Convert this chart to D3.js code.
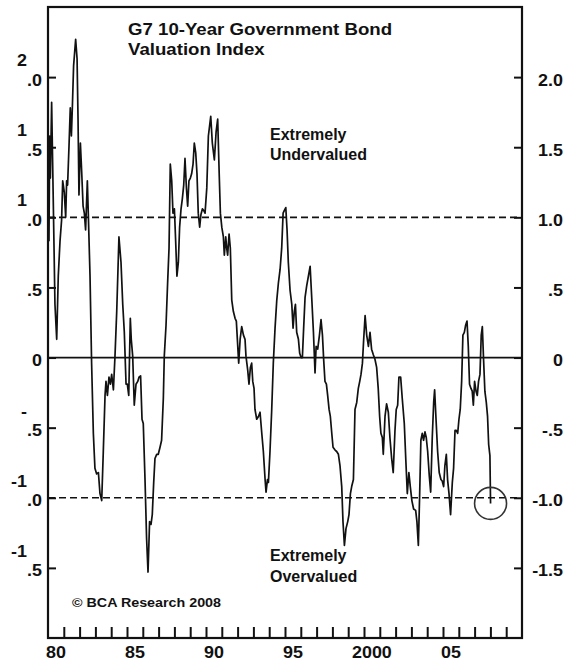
<!DOCTYPE html>
<html>
<head>
<meta charset="utf-8">
<script src="https://cdn.jsdelivr.net/npm/d3@7"></script>
<style>
  body { margin: 0; background: #fff; }
  text { font-family: "Liberation Sans", Arial, sans-serif; font-weight: bold; fill: #111; }
</style>
</head>
<body>
<script>
// G7 10-Year Government Bond Valuation Index
const years = [
  1980.06, 1980.11, 1980.15, 1980.23, 1980.32, 1980.44, 1980.55, 1980.65, 1980.76, 1980.86, 1980.93,
  1981.03, 1981.12, 1981.18, 1981.24, 1981.33, 1981.41, 1981.48, 1981.54, 1981.62, 1981.75, 1981.84, 1981.90, 1981.96,
  1982.05, 1982.13, 1982.22, 1982.30, 1982.38, 1982.49, 1982.55, 1982.66, 1982.76, 1982.87, 1982.97,
  1983.08, 1983.19, 1983.29, 1983.40, 1983.50, 1983.61, 1983.67, 1983.76, 1983.86, 1983.95,
  1984.03, 1984.14, 1984.24, 1984.35, 1984.49, 1984.62, 1984.73, 1984.83, 1984.94,
  1985.02, 1985.11, 1985.21, 1985.27, 1985.36, 1985.46, 1985.57, 1985.68, 1985.76, 1985.86, 1985.95,
  1986.03, 1986.14, 1986.24, 1986.33, 1986.43, 1986.52, 1986.60, 1986.69, 1986.77, 1986.88, 1986.98,
  1987.09, 1987.19, 1987.30, 1987.36, 1987.47, 1987.57, 1987.66, 1987.74, 1987.83, 1987.91,
  1988.00, 1988.08, 1988.16, 1988.25, 1988.33, 1988.42, 1988.50, 1988.59, 1988.67, 1988.76, 1988.84, 1988.92,
  1989.01, 1989.09, 1989.18, 1989.26, 1989.35, 1989.43, 1989.51, 1989.60, 1989.68, 1989.77, 1989.85, 1989.94,
  1990.05, 1990.15, 1990.30, 1990.40, 1990.53, 1990.64, 1990.74, 1990.83, 1990.91,
  1991.00, 1991.10, 1991.16, 1991.25, 1991.31, 1991.37, 1991.46, 1991.54, 1991.63, 1991.73, 1991.84, 1991.92,
  1992.01, 1992.07, 1992.16, 1992.26, 1992.37, 1992.47, 1992.53, 1992.64, 1992.72, 1992.81, 1992.89, 1992.96,
  1993.04, 1993.10, 1993.21, 1993.32, 1993.42, 1993.53, 1993.63, 1993.74, 1993.80, 1993.89, 1993.95,
  1994.05, 1994.16, 1994.26, 1994.37, 1994.48, 1994.58, 1994.69, 1994.79, 1994.88, 1994.96,
  1995.05, 1995.13, 1995.21, 1995.32, 1995.43, 1995.51, 1995.59, 1995.66, 1995.74, 1995.85, 1995.93,
  1996.02, 1996.10, 1996.18, 1996.27, 1996.37, 1996.48, 1996.59, 1996.69, 1996.80, 1996.90, 1996.97,
  1997.07, 1997.18, 1997.28, 1997.37, 1997.45, 1997.53, 1997.62, 1997.70, 1997.79, 1997.87, 1997.96,
  1998.04, 1998.17, 1998.27, 1998.38, 1998.48, 1998.59, 1998.67, 1998.76, 1998.86, 1998.97,
  1999.05, 1999.14, 1999.22, 1999.33, 1999.43, 1999.54, 1999.64, 1999.73, 1999.81, 1999.90, 1999.98,
  2000.07, 2000.17, 2000.28, 2000.38, 2000.48, 2000.59, 2000.69, 2000.80, 2000.90, 2000.99,
  2001.07, 2001.16, 2001.22, 2001.33, 2001.43, 2001.54, 2001.64, 2001.75, 2001.85, 2001.96,
  2002.04, 2002.13, 2002.21, 2002.32, 2002.42, 2002.55, 2002.65, 2002.74, 2002.84, 2002.93,
  2003.03, 2003.14, 2003.27, 2003.35, 2003.44, 2003.52, 2003.60, 2003.69, 2003.77, 2003.86, 2003.94,
  2004.03, 2004.13, 2004.22, 2004.32, 2004.41, 2004.47, 2004.55, 2004.66, 2004.76, 2004.87, 2004.95,
  2005.04, 2005.12, 2005.21, 2005.29, 2005.38, 2005.48, 2005.59, 2005.67, 2005.76, 2005.84, 2005.93,
  2006.01, 2006.09, 2006.18, 2006.26, 2006.35, 2006.43, 2006.52, 2006.60, 2006.68, 2006.77, 2006.85, 2006.92,
  2007.00, 2007.09, 2007.17, 2007.25, 2007.34, 2007.42, 2007.49, 2007.57, 2007.65, 2007.74, 2007.82, 2007.89, 2007.97,
  2008.01
];
const index = [
  0.83, 1.58, 1.28, 1.82, 1.21, 0.38, 0.13, 0.58, 0.83, 0.98, 1.26,
  1.18, 1.00, 1.26, 1.23, 1.51, 1.78, 1.58, 1.78, 2.08, 2.27, 2.13, 1.71, 1.16,
  1.53, 1.33, 1.08, 1.03, 0.91, 1.26, 1.03, 0.58, -0.04, -0.54, -0.79,
  -0.83, -0.82, -0.97, -1.02, -0.67, -0.27, -0.17, -0.27, -0.14, -0.19,
  -0.12, -0.23, 0.01, 0.33, 0.86, 0.68, 0.38, 0.18, -0.19,
  -0.19, -0.27, 0.28, 0.13, 0.01, -0.34, -0.19, -0.17, -0.14, -0.13, -0.44,
  -0.47, -0.87, -1.29, -1.53, -1.17, -1.19, -1.12, -0.89, -0.72, -0.69, -0.69,
  -0.64, -0.59, -0.29, 0.01, 0.23, 0.53, 0.78, 1.38, 1.26, 1.03,
  1.06, 0.83, 0.58, 0.68, 0.93, 1.06, 1.13, 1.23, 1.42, 1.21, 1.08, 1.26,
  1.28, 1.31, 1.38, 1.53, 1.46, 1.31, 1.03, 0.93, 1.02, 1.06, 1.05, 1.03,
  1.21, 1.58, 1.72, 1.53, 1.41, 1.61, 1.70, 1.33, 1.03,
  0.93, 0.86, 0.73, 0.86, 0.78, 0.73, 0.88, 0.78, 0.41, 0.33, 0.28, 0.26,
  0.08, -0.04, 0.13, 0.22, 0.16, 0.13, 0.01, -0.09, -0.19, -0.07, -0.04, -0.17,
  -0.22, -0.37, -0.44, -0.42, -0.39, -0.54, -0.67, -0.87, -0.96, -0.87, -0.89,
  -0.67, -0.37, -0.04, 0.21, 0.41, 0.53, 0.63, 0.78, 1.03, 1.05,
  1.07, 0.91, 0.68, 0.48, 0.38, 0.21, 0.33, 0.38, 0.18, 0.13, 0.03,
  0.00, 0.00, 0.21, 0.43, 0.51, 0.58, 0.65, 0.43, 0.18, -0.11, 0.08,
  0.06, 0.16, 0.27, 0.16, -0.02, -0.17, -0.19, -0.27, -0.37, -0.42, -0.54,
  -0.64, -0.66, -0.67, -0.69, -0.77, -0.92, -1.17, -1.34, -1.22, -1.17,
  -1.12, -0.97, -0.92, -0.87, -0.37, -0.32, -0.22, -0.17, -0.12, -0.04, 0.13,
  0.30, 0.16, 0.08, 0.18, 0.06, 0.02, -0.01, -0.07, -0.22, -0.42,
  -0.54, -0.57, -0.69, -0.42, -0.33, -0.39, -0.57, -0.72, -0.82, -0.52,
  -0.37, -0.34, -0.14, -0.14, -0.29, -0.47, -0.74, -0.97, -0.82, -0.92,
  -1.02, -1.08, -1.09, -1.17, -1.34, -0.99, -0.59, -0.54, -0.59, -0.53, -0.57,
  -0.67, -0.84, -0.96, -0.57, -0.32, -0.23, -0.42, -0.67, -0.82, -0.87, -0.88,
  -0.92, -0.77, -0.69, -0.87, -0.97, -1.12, -0.89, -0.79, -0.52, -0.52, -0.54,
  -0.44, -0.37, -0.17, 0.16, 0.18, 0.23, 0.26, 0.08, -0.19, -0.22, -0.24, -0.34,
  -0.17, -0.24, -0.27, -0.17, -0.12, 0.16, 0.22, -0.02, -0.24, -0.32, -0.42, -0.62, -0.70,
  -1.04
];

// axis ticks and labels
const yTicks = [2, 1.5, 1, 0.5, 0, -0.5, -1, -1.5];
const leftWhole = ["2", "1", "1", "", "", "-", "-1", "-1"];
const leftFrac = [".0", ".5", ".0", ".5", "0", ".5", ".0", ".5"];
const rightLabels = ["2.0", "1.5", "1.0", ".5", "0", "-.5", "-1.0", "-1.5"];
const xLabelYears = [1980, 1985, 1990, 1995, 2000, 2005];
const xLabels = ["80", "85", "90", "95", "2000", "05"];
const yearTicks = d3.range(1981, 2010);

const width = 565, height = 663;
const box = {left: 48, right: 522, top: 7, bottom: 638};
const stretch = 1.12;

const svg = d3.select("body").append("svg")
    .attr("width", width)
    .attr("height", height);

svg.append("rect").attr("width", width).attr("height", height).attr("fill", "#fff");

const x = d3.scaleLinear().domain([1980, 2010]).range([box.left, box.right]);
const y = d3.scaleLinear().domain([-2, 2.5]).range([box.bottom, box.top]);

// reference lines
svg.append("line")
    .attr("x1", box.left).attr("x2", box.right)
    .attr("y1", y(0)).attr("y2", y(0))
    .attr("stroke", "#111").attr("stroke-width", 1.8);
[1, -1].forEach(v => {
    svg.append("line")
        .attr("x1", box.left).attr("x2", box.right)
        .attr("y1", y(v)).attr("y2", y(v))
        .attr("stroke", "#111").attr("stroke-width", 1.6)
        .attr("stroke-dasharray", "7,4");
});

// the index line
const line = d3.line()
    .x((d, i) => x(years[i]))
    .y(d => y(d));
svg.append("path")
    .attr("d", line(index))
    .attr("fill", "none")
    .attr("stroke", "#111")
    .attr("stroke-width", 1.7)
    .attr("stroke-linejoin", "round");

// circle round the latest reading
const last = index.length - 1;
svg.append("circle")
    .attr("cx", x(years[last]))
    .attr("cy", y(index[last]))
    .attr("r", 16)
    .attr("fill", "none")
    .attr("stroke", "#333")
    .attr("stroke-width", 1.6);

// axes (ticks point inward)
function styleAxis(g) {
    g.select(".domain").remove();
    g.selectAll(".tick line").attr("stroke", "#111").attr("stroke-width", 2);
    g.selectAll(".tick text").remove();
}
svg.append("g")
    .attr("transform", `translate(${box.left},0)`)
    .call(d3.axisRight(y).tickValues(yTicks).tickSize(8))
    .call(styleAxis);
svg.append("g")
    .attr("transform", `translate(${box.right},0)`)
    .call(d3.axisLeft(y).tickValues(yTicks).tickSize(8))
    .call(styleAxis);
svg.append("g")
    .attr("transform", `translate(0,${box.bottom})`)
    .call(d3.axisTop(x).tickValues(yearTicks).tickSize(11))
    .call(styleAxis);

// frame
svg.append("rect")
    .attr("x", box.left).attr("y", box.top)
    .attr("width", box.right - box.left).attr("height", box.bottom - box.top)
    .attr("fill", "none").attr("stroke", "#111").attr("stroke-width", 2.2);

function label(tx, ty, str, anchor, size, sx) {
    svg.append("text")
        .attr("transform", `translate(${tx},${ty}) scale(${sx},1)`)
        .attr("text-anchor", anchor)
        .style("font-size", size + "px")
        .text(str);
}

// left labels: split into whole part and fraction as in the original
yTicks.forEach((v, i) => {
    label(42, y(v) + 8.5, leftFrac[i], "end", 16, stretch);
    if (leftWhole[i]) label(27, y(v) - 11, leftWhole[i], "end", 16, stretch);
    label(563, y(v) + 8.5, rightLabels[i], "end", 16, stretch);
});

xLabelYears.forEach((yr, i) => {
    label(x(yr + 0.5), 658, xLabels[i], "middle", 16, stretch);
});

// title and notes
label(128, 35, "G7 10-Year Government Bond", "start", 16.5, 1.13);
label(128, 55, "Valuation Index", "start", 16.5, 1.13);
label(270, 140, "Extremely", "start", 16, 1);
label(270, 160, "Undervalued", "start", 16, 1);
label(270, 561, "Extremely", "start", 16, 1);
label(270, 582, "Overvalued", "start", 16, 1);
label(72, 607, "© BCA Research 2008", "start", 13, 1.1);
</script>
</body>
</html>
